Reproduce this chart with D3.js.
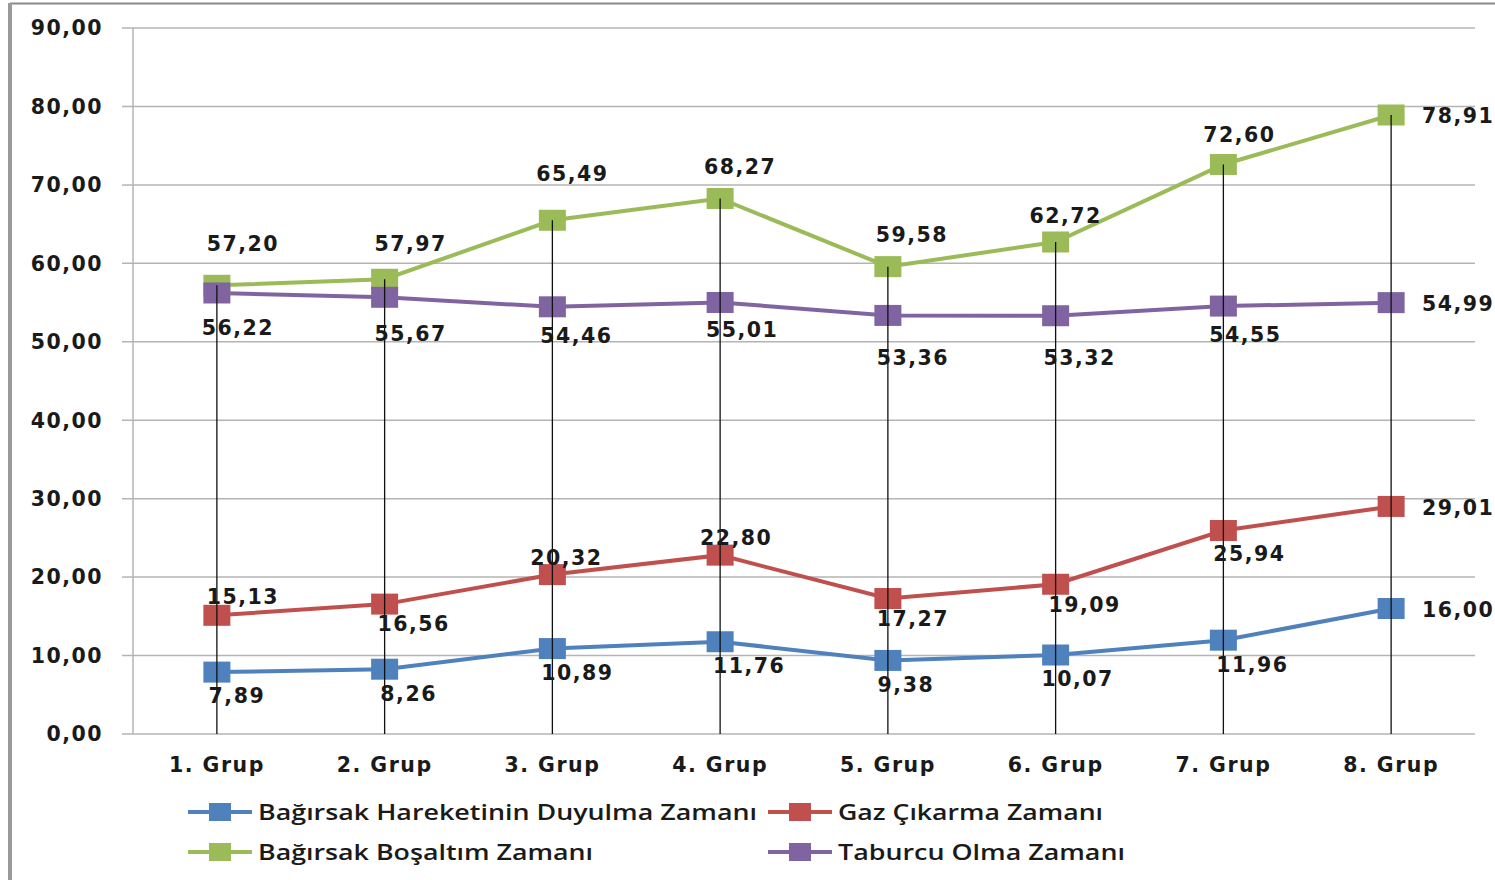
<!DOCTYPE html>
<html><head><meta charset="utf-8">
<script src="https://cdn.jsdelivr.net/npm/d3@7"></script>
<style>
html,body{margin:0;padding:0;background:#fff;}
svg{display:block;}
</style></head>
<body>
<svg id="chart" width="1495" height="880"></svg>
<script>
const categories = ["1. Grup","2. Grup","3. Grup","4. Grup","5. Grup","6. Grup","7. Grup","8. Grup"];
const seriesNames = ["Bağırsak Hareketinin Duyulma Zamanı","Gaz Çıkarma Zamanı","Bağırsak Boşaltım Zamanı","Taburcu Olma Zamanı"];
const bagirsakHareket = [7.89, 8.26, 10.89, 11.76, 9.38, 10.07, 11.96, 16.00];
const gazCikarma = [15.13, 16.56, 20.32, 22.80, 17.27, 19.09, 25.94, 29.01];
const bagirsakBosaltim = [57.20, 57.97, 65.49, 68.27, 59.58, 62.72, 72.60, 78.91];
const taburcuOlma = [56.22, 55.67, 54.46, 55.01, 53.36, 53.32, 54.55, 54.99];
const yTicks = [0,10,20,30,40,50,60,70,80,90];

// label placement (offsets from the point, in px) — styling only
const labelOffsets = [
  [[20,24],[24,24],[25,24],[29,24],[18,24],[22,24],[29,24],[67,1]],
  [[26,-19],[29,20],[14,-17],[16,-18],[25,20],[29,20],[26,23],[67,1]],
  [[26,-42],[26,-36],[20,-47],[20,-32],[24,-32],[10,-26],[16,-30],[67,1]],
  [[21,35],[26,36],[24,29],[22,27],[25,42],[24,42],[22,29],[67,1]]
];
const colors = ["#4F81BD","#C0504D","#9BBB59","#8064A2"];
const allSeries = [bagirsakHareket, gazCikarma, bagirsakBosaltim, taburcuOlma];

const svg = d3.select("#chart");
const fmt = v => v.toFixed(2).replace(".", ",");

// outer frame
svg.append("line").attr("x1",10).attr("x2",1495).attr("y1",3.5).attr("y2",3.5)
  .attr("stroke","#8a8a8a").attr("stroke-width",2);
svg.append("line").attr("x1",10).attr("x2",10).attr("y1",3).attr("y2",880)
  .attr("stroke","#9a9a9a").attr("stroke-width",4);

const pLeft = 133, pRight = 1475, pTop = 28, pBottom = 734;
const x = d3.scaleBand().domain(categories).range([pLeft, pRight]);
const y = d3.scaleLinear().domain([0, 90]).range([pBottom, pTop]);
const cx = c => x(c) + x.bandwidth()/2;

const tickFont = "'DejaVu Sans', Verdana, sans-serif";
const fs = 20.5, ls = 1.5;

// horizontal gridlines
svg.append("g").selectAll("line").data(yTicks).join("line")
  .attr("x1", pLeft - 11).attr("x2", pRight)
  .attr("y1", d => y(d)).attr("y2", d => y(d))
  .attr("stroke", "#b4b4b4").attr("stroke-width", 1.5);

// y axis line
svg.append("line").attr("x1", pLeft).attr("x2", pLeft).attr("y1", pTop).attr("y2", pBottom)
  .attr("stroke", "#b4b4b4").attr("stroke-width", 1.5);

// y tick labels
svg.append("g").selectAll("text").data(yTicks).join("text")
  .attr("x", 103).attr("y", d => y(d))
  .attr("dy", "0.36em").attr("text-anchor", "end")
  .attr("font-family", tickFont).attr("font-weight", "bold")
  .attr("font-size", fs).attr("letter-spacing", ls).attr("fill", "#1a1a1a")
  .text(d => fmt(d));

// x category labels
svg.append("g").selectAll("text").data(categories).join("text")
  .attr("x", d => cx(d)).attr("y", 772)
  .attr("text-anchor", "middle")
  .attr("font-family", tickFont).attr("font-weight", "bold")
  .attr("font-size", fs).attr("letter-spacing", ls).attr("fill", "#1a1a1a")
  .text(d => d);

const line = d3.line().x((d,i) => cx(categories[i])).y(d => y(d));
const mw = 27, mh = 21;

allSeries.forEach((s, si) => {
  svg.append("g").append("path").datum(s).attr("d", line)
    .attr("fill", "none").attr("stroke", colors[si]).attr("stroke-width", 4);
});
allSeries.forEach((s, si) => {
  svg.append("g").selectAll("rect").data(s).join("rect")
    .attr("x", (d,i) => cx(categories[i]) - mw/2)
    .attr("y", d => y(d) - mh/2)
    .attr("width", mw).attr("height", mh)
    .attr("fill", colors[si]);
});
// drop lines (from the highest series down to the axis), visible over markers
svg.append("g").selectAll("line").data(categories).join("line")
  .attr("x1", d => cx(d)).attr("x2", d => cx(d))
  .attr("y1", (d,i) => y(d3.max(allSeries, s => s[i])))
  .attr("y2", pBottom)
  .attr("stroke", "#111").attr("stroke-width", 1.3);

// data labels
allSeries.forEach((s, si) => {
  svg.append("g").selectAll("text").data(s).join("text")
    .attr("x", (d,i) => cx(categories[i]) + labelOffsets[si][i][0])
    .attr("y", (d,i) => y(d) + labelOffsets[si][i][1])
    .attr("dy", "0.36em").attr("text-anchor", "middle")
    .attr("font-family", tickFont).attr("font-weight", "bold")
    .attr("font-size", fs).attr("letter-spacing", ls).attr("fill", "#1a1a1a")
    .text(d => fmt(d));
});

// legend
const legendItems = [
  {name: seriesNames[0], color: colors[0], x: 188, y: 812, w: 499},
  {name: seriesNames[1], color: colors[1], x: 768, y: 812, w: 265},
  {name: seriesNames[2], color: colors[2], x: 188, y: 852, w: 335},
  {name: seriesNames[3], color: colors[3], x: 768, y: 852, w: 287}
];
const lg = svg.append("g");
legendItems.forEach(it => {
  lg.append("line").attr("x1", it.x).attr("x2", it.x + 64)
    .attr("y1", it.y).attr("y2", it.y)
    .attr("stroke", it.color).attr("stroke-width", 4);
  lg.append("rect").attr("x", it.x + 32 - 11).attr("y", it.y - 9)
    .attr("width", 22).attr("height", 18).attr("fill", it.color);
  lg.append("text").attr("x", it.x + 70).attr("y", it.y)
    .attr("dy", "0.36em")
    .attr("font-family", "'Open Sans', 'Noto Sans', sans-serif").attr("font-weight", 600)
    .attr("font-size", 21).attr("fill", "#1a1a1a")
    .attr("textLength", it.w).attr("lengthAdjust", "spacingAndGlyphs")
    .text(it.name);
});
</script>
</body></html>
